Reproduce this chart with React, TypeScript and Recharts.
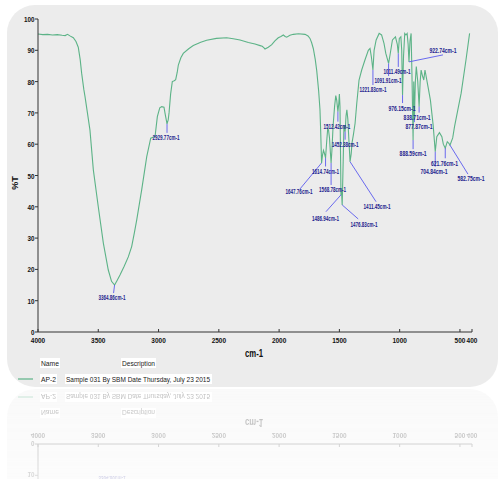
import React from 'react';
import { ComposedChart, Line, Scatter, XAxis, YAxis } from 'recharts';

// FTIR spectrum of sample AP-2: [wavenumber (cm-1), %T]
const spectrum: [number, number][] = [
  [4000, 95.2], [3960, 95.0], [3920, 95.1], [3880, 94.9], [3840, 95.0], [3800, 94.8],
  [3775, 94.7], [3755, 95.1], [3735, 94.6], [3707, 94.0], [3685, 92.8], [3666, 91.0],
  [3650, 87.0], [3638, 82.7], [3620, 77.5], [3610, 75.2], [3590, 70.0], [3569, 64.5],
  [3541, 51.8], [3500, 40.0], [3458, 28.4], [3417, 19.8], [3390, 16.2], [3364.86, 15.0],
  [3345, 16.4], [3320, 18.2], [3285, 21.0], [3251, 24.0], [3223, 27.3], [3200, 31.8],
  [3181, 35.8], [3140, 45.4], [3098, 56.0], [3065, 61.9], [3045, 62.2], [3029, 62.5],
  [3010, 68.8], [2990, 71.6], [2974, 72.0], [2955, 71.8], [2945, 69.6], [2929.77, 66.5],
  [2920, 67.8], [2913, 70.0], [2900, 76.0], [2886, 80.0], [2870, 80.3], [2858, 80.6],
  [2845, 83.0], [2836, 85.3], [2815, 87.6], [2795, 89.0], [2750, 90.5], [2712, 91.5],
  [2650, 92.6], [2601, 93.2], [2520, 93.8], [2435, 94.0], [2380, 93.7], [2324, 93.3],
  [2255, 92.5], [2200, 92.0], [2158, 91.5], [2140, 91.3], [2125, 90.8], [2117, 90.4],
  [2090, 91.0], [2061, 91.8], [2035, 93.0], [2007, 94.0], [1985, 94.4], [1965, 94.9],
  [1950, 94.4], [1937, 94.2], [1910, 94.8], [1882, 95.1], [1840, 95.3], [1785, 95.1],
  [1760, 94.6], [1744, 93.8], [1730, 92.4], [1716, 90.5], [1700, 87.0], [1688, 83.5],
  [1672, 77.0], [1661, 71.0], [1655, 64.0], [1647.76, 54.0], [1640, 56.5], [1632, 58.0],
  [1625, 57.2], [1614.74, 55.6], [1605, 61.0], [1597, 65.0], [1590, 64.5], [1582, 62.0],
  [1575, 57.5], [1568.78, 54.0], [1562, 58.0], [1552, 66.0], [1540, 72.0], [1530, 75.5],
  [1522, 74.0], [1512.42, 70.4], [1505, 73.0], [1500, 76.0], [1495, 72.0], [1490, 55.0],
  [1486.94, 43.8], [1482, 44.8], [1476.83, 40.6], [1470, 52.0], [1462, 66.0], [1452.38, 64.0],
  [1445, 69.0], [1438, 71.0], [1430, 68.0], [1422, 62.0], [1411.45, 54.4], [1402, 57.0],
  [1395, 60.5], [1384, 63.0], [1370, 66.6], [1356, 73.0], [1337, 80.5], [1315, 83.7],
  [1288, 86.9], [1260, 90.0], [1246, 90.6], [1235, 88.0], [1221.83, 83.7], [1212, 90.0],
  [1195, 93.3], [1170, 95.4], [1150, 94.9], [1130, 92.2], [1115, 89.0], [1091.91, 85.8],
  [1080, 88.5], [1060, 93.3], [1035, 94.3], [1020, 92.0], [1011.49, 89.0], [1003, 93.8],
  [990, 94.3], [983, 90.0], [976.15, 75.7], [968, 88.0], [958, 95.4], [948, 94.9],
  [938, 95.4], [930, 92.0], [922.74, 86.3], [914, 93.0], [905, 95.4], [898, 82.0],
  [888.59, 61.3], [883, 80.0], [877.87, 68.0], [870, 80.0], [862, 84.8], [850, 80.0],
  [838.71, 72.0], [830, 80.0], [822, 83.7], [812, 82.0], [800, 80.5], [790, 83.7],
  [765, 78.4], [745, 74.1], [722, 66.0], [704.84, 57.6], [692, 62.4], [670, 63.7],
  [650, 62.4], [638, 60.0], [621.76, 58.7], [605, 60.8], [592, 60.3], [582.75, 59.7],
  [560, 62.0], [545, 65.6], [520, 70.5], [490, 76.3], [450, 86.9], [420, 95.4],
];

// Labelled absorption bands (cm-1)
const peakWavenumbers = [
  3364.86, 2929.77, 1647.76, 1614.74, 1568.78, 1512.42, 1486.94, 1476.83, 1452.38,
  1411.45, 1221.83, 1091.91, 1011.49, 976.15, 922.74, 888.59, 877.87, 838.71,
  704.84, 621.76, 582.75,
];

const xTicks = [4000, 3500, 3000, 2500, 2000, 1500, 1000, 500, 400];
const yTicks = [0, 10, 20, 30, 40, 50, 60, 70, 80, 90, 100];

const sampleName = 'AP-2';
const sampleDescription = 'Sample 031 By SBM Date Thursday, July 23 2015';

const rows = spectrum.map(([wn, t]) => ({ wn, t }));
const peakRows = peakWavenumbers.map((wn) => ({
  wn,
  t: (rows.find((r) => r.wn === wn) as { wn: number; t: number }).t,
}));

// Callout placement relative to each band: text centre (dx, dy), leader end (lx, ly)
const calloutLayout: Record<string, { dx: number; dy: number; lx: number; ly: number }> = {
  '3364.86': { dx: -2.6, dy: 13, lx: -1, ly: 8 },
  '2929.77': { dx: -1, dy: 14, lx: 0, ly: 9 },
  '1647.76': { dx: -22.6, dy: 29, lx: -21.6, ly: 26 },
  '1614.74': { dx: 0, dy: 13.7, lx: 0, ly: 8.5 },
  '1568.78': { dx: 1.5, dy: 27, lx: 0, ly: 22 },
  '1512.42': { dx: -1, dy: 15, lx: 0, ly: 10 },
  '1486.94': { dx: -15.5, dy: 23.4, lx: -15, ly: 16.8 },
  '1476.83': { dx: 21.8, dy: 19.4, lx: 16, ly: 14 },
  '1452.38': { dx: 0, dy: 12.6, lx: 0, ly: 8 },
  '1411.45': { dx: 27, dy: 45, lx: 26, ly: 40 },
  '1221.83': { dx: 0, dy: 20, lx: 0, ly: 15 },
  '1091.91': { dx: -0.6, dy: 17.6, lx: 0, ly: 12.6 },
  '1011.49': { dx: -1.3, dy: 18.3, lx: 0, ly: 13.5 },
  '976.15': { dx: -0.6, dy: 13.2, lx: 0, ly: 8 },
  '922.74': { dx: 34, dy: -11.2, lx: 34, ly: -7 },
  '888.59': { dx: 0, dy: 14, lx: 0, ly: 9 },
  '877.87': { dx: 4.6, dy: 7.5, lx: 0, ly: 3 },
  '838.71': { dx: -2, dy: 10.7, lx: 0, ly: 6 },
  '704.84': { dx: -1.3, dy: 20, lx: 0, ly: 15 },
  '621.76': { dx: -0.8, dy: 15, lx: 0, ly: 10 },
  '582.75': { dx: 21, dy: 34, lx: 18, ly: 29 },
};

const FONT = '"Liberation Sans", Arial, sans-serif';
const LINE_COLOR = '#5cb387';

// In the mirrored copy only the lower strip of the card is ever visible,
// so texts lying above that strip are skipped there.
const MIRROR_VISIBLE_FROM = 290;

const XTick = (props: any) => {
  const { x, y, payload } = props;
  const label = String(payload.value);
  return (
    <g>
      <line x1={x} x2={x} y1={y - 3} y2={y} stroke="#333" strokeWidth={1} />
      <text
        x={x}
        y={y + 11}
        textAnchor="middle"
        fontFamily={FONT}
        fontWeight="bold"
        fontSize={8}
        fill="#111"
        textLength={label.length * 3.6}
        lengthAdjust="spacingAndGlyphs"
      >
        {label}
      </text>
    </g>
  );
};

const YTick = (props: any) => {
  const { x, y, payload, mirrored } = props;
  const label = String(payload.value);
  const showText = !mirrored || y > MIRROR_VISIBLE_FROM;
  return (
    <g>
      <line x1={x - 3} x2={x} y1={y} y2={y} stroke="#333" strokeWidth={1} />
      {showText && (
        <text
          x={x - 3.5}
          y={y + 3}
          textAnchor="end"
          fontFamily={FONT}
          fontWeight="bold"
          fontSize={8}
          fill="#111"
          textLength={label.length * 3.5}
          lengthAdjust="spacingAndGlyphs"
        >
          {label}
        </text>
      )}
    </g>
  );
};

const Callout = (props: any) => {
  const { cx, cy, payload, mirrored } = props;
  const key = String(payload.wn);
  const lay = calloutLayout[key] || { dx: 0, dy: 14, lx: 0, ly: 9 };
  const ty = cy + lay.dy + 2.3;
  if (mirrored && ty < MIRROR_VISIBLE_FROM) return <g />;
  return (
    <g>
      <line
        x1={cx}
        y1={cy}
        x2={cx + lay.lx}
        y2={cy + lay.ly}
        stroke="#5a5aee"
        strokeWidth={0.9}
      />
      <text
        x={cx + lay.dx}
        y={ty}
        textAnchor="middle"
        fontFamily={FONT}
        fontWeight="bold"
        fontSize={6.5}
        fill="#1c1c8c"
        textLength={27}
        lengthAdjust="spacingAndGlyphs"
      >
        {`${payload.wn.toFixed(2)}cm-1`}
      </text>
    </g>
  );
};

function Card({ mirrored = false }: { mirrored?: boolean }) {
  return (
    <div style={{ position: 'absolute', left: 0, top: 0, width: 502, height: 479 }}>
      <div
        style={{
          position: 'absolute',
          left: 7,
          top: 5,
          width: 491,
          height: 382,
          borderRadius: 28,
          background: '#ececec',
        }}
      />
      <div style={{ position: 'absolute', left: 0, top: 0 }}>
        <ComposedChart
          width={502}
          height={390}
          data={rows}
          margin={{ top: 19, right: 30, left: 8, bottom: 38 }}
        >
          <XAxis
            dataKey="wn"
            type="number"
            domain={[400, 4000]}
            reversed
            ticks={xTicks}
            interval={0}
            height={20}
            tickSize={0}
            tickMargin={0}
            tickLine={false}
            axisLine={{ stroke: '#333', strokeWidth: 1 }}
            tick={<XTick />}
          />
          <YAxis
            type="number"
            domain={[0, 100]}
            ticks={yTicks}
            interval={0}
            width={30}
            tickSize={0}
            tickMargin={0}
            tickLine={false}
            axisLine={{ stroke: '#333', strokeWidth: 1 }}
            tick={<YTick mirrored={mirrored} />}
          />
          <Line
            type="linear"
            dataKey="t"
            stroke={LINE_COLOR}
            strokeWidth={1.1}
            dot={false}
            activeDot={false}
            isAnimationActive={false}
          />
          <Scatter
            data={peakRows}
            dataKey="t"
            shape={<Callout mirrored={mirrored} />}
            isAnimationActive={false}
          />
        </ComposedChart>
      </div>
      <svg
        width={502}
        height={390}
        style={{ position: 'absolute', left: 0, top: 0, pointerEvents: 'none' }}
      >
        {!mirrored && (
          <text
            transform="translate(18,183) rotate(-90)"
            textAnchor="middle"
            fontFamily={FONT}
            fontWeight="bold"
            fontSize={9}
            fill="#111"
          >
            %T
          </text>
        )}
        <text
          x={254}
          y={357}
          textAnchor="middle"
          fontFamily={FONT}
          fontWeight="bold"
          fontSize={11}
          fill="#111"
          textLength={18}
          lengthAdjust="spacingAndGlyphs"
        >
          cm-1
        </text>
        <rect x={40} y={358} width={20} height={10} fill="#fff" />
        <text x={41} y={366} fontFamily={FONT} fontSize={8} fill="#222" textLength={18} lengthAdjust="spacingAndGlyphs">
          Name
        </text>
        <rect x={121} y={358} width={35} height={10} fill="#fff" />
        <text x={122} y={366} fontFamily={FONT} fontSize={8} fill="#222" textLength={33} lengthAdjust="spacingAndGlyphs">
          Description
        </text>
        <line x1={18} x2={33} y1={379} y2={379} stroke={LINE_COLOR} strokeWidth={1.2} />
        <rect x={40} y={374} width={17} height={10} fill="#fff" />
        <text x={41} y={382} fontFamily={FONT} fontSize={8} fill="#222" textLength={15} lengthAdjust="spacingAndGlyphs">
          {sampleName}
        </text>
        <rect x={65} y={374} width={147} height={10} fill="#fff" />
        <text x={66} y={382} fontFamily={FONT} fontSize={8} fill="#222" textLength={144} lengthAdjust="spacingAndGlyphs">
          {sampleDescription}
        </text>
      </svg>
    </div>
  );
}

export default function App() {
  return (
    <div
      style={{
        position: 'absolute',
        left: 0,
        top: 0,
        width: 502,
        height: 479,
        overflow: 'hidden',
        background: '#fff',
      }}
    >
      <Card />
      {/* mirrored copy beneath the card */}
      <div
        style={{
          position: 'absolute',
          left: 0,
          top: 388,
          width: 502,
          height: 91,
          overflow: 'hidden',
          opacity: 0.3,
          WebkitMaskImage: 'linear-gradient(to bottom, rgba(0,0,0,1), rgba(0,0,0,0.55))',
          maskImage: 'linear-gradient(to bottom, rgba(0,0,0,1), rgba(0,0,0,0.55))',
        }}
      >
        <div
          style={{
            position: 'absolute',
            left: 0,
            top: -388,
            width: 502,
            height: 479,
            transform: 'scaleY(-1)',
            transformOrigin: '0 388px',
          }}
        >
          <Card mirrored />
        </div>
      </div>
    </div>
  );
}
